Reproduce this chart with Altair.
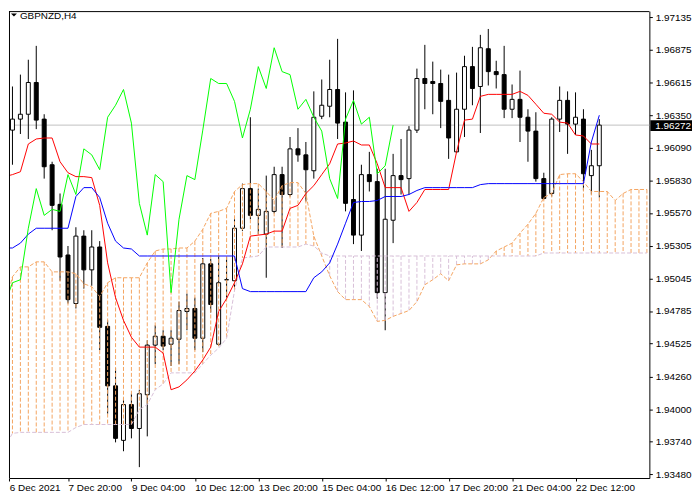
import altair as alt
import pandas as pd
import numpy as np

FONT = "Liberation Sans"

symbol_title = "GBPNZD,H4"
last_price = 1.96272
chikou_shift = 26

x_tick_index = [0.6, 8, 16, 24, 32, 40, 48, 56, 64, 72]
x_tick_labels = ["6 Dec 2021", "7 Dec 20:00", "9 Dec 04:00", "10 Dec 12:00", "13 Dec 20:00",
                 "15 Dec 04:00", "16 Dec 12:00", "17 Dec 20:00", "21 Dec 04:00", "22 Dec 12:00"]
y_tick_values = [1.97135, 1.96875, 1.96615, 1.96350, 1.96090, 1.95830, 1.95570, 1.95305,
                 1.95045, 1.94785, 1.94525, 1.94260, 1.94000, 1.93740, 1.93480]

open_ = [1.96518, 1.96232, 1.96320, 1.96359, 1.96613, 1.96320, 1.95955, 1.95638, 1.95233, 1.94845,
         1.95384, 1.95114, 1.95297, 1.94662, 1.94186, 1.93750, 1.94036, 1.93845, 1.94115, 1.94512,
         1.94583, 1.94519, 1.94559, 1.94781, 1.94805, 1.94567, 1.95162, 1.94519, 1.95035, 1.95027,
         1.95447, 1.95764, 1.95550, 1.95400, 1.95582, 1.95876, 1.95717, 1.96082, 1.96034, 1.95907,
         1.96343, 1.96423, 1.96557, 1.96296, 1.95677, 1.95392, 1.95876, 1.95820, 1.94932, 1.95511,
         1.95868, 1.95844, 1.96232, 1.96645, 1.96621, 1.96605, 1.96470, 1.96058, 1.96399, 1.96740,
         1.96581, 1.96883, 1.96700, 1.96676, 1.96399, 1.96478, 1.96335, 1.96224, 1.95844, 1.95725,
         1.96320, 1.96470, 1.96280, 1.96320, 1.95868, 1.95947]

high = [1.96597, 1.96581, 1.96676, 1.96795, 1.96906, 1.96359, 1.95979, 1.95725, 1.95305, 1.95455,
        1.95431, 1.95431, 1.95344, 1.94710, 1.94329, 1.94091, 1.94123, 1.94155, 1.94551, 1.94670,
        1.94631, 1.94631, 1.94860, 1.94924, 1.94892, 1.95209, 1.95201, 1.95225, 1.95217, 1.95519,
        1.95804, 1.96335, 1.95764, 1.95868, 1.95939, 1.95939, 1.96177, 1.96248, 1.96137, 1.96542,
        1.96637, 1.96795, 1.96962, 1.96534, 1.96550, 1.95955, 1.96058, 1.95923, 1.95923, 1.96042,
        1.96161, 1.96264, 1.96724, 1.96914, 1.96780, 1.96716, 1.96676, 1.96692, 1.96827, 1.96898,
        1.96994, 1.97041, 1.96787, 1.96906, 1.96597, 1.96708, 1.96399, 1.96375, 1.95891, 1.96335,
        1.96581, 1.96542, 1.96534, 1.96399, 1.96074, 1.96320]

low = [1.96018, 1.95955, 1.96201, 1.96161, 1.96240, 1.95844, 1.95431, 1.95027, 1.94845, 1.94805,
       1.94964, 1.94987, 1.94472, 1.93964, 1.93734, 1.93663, 1.93766, 1.93536, 1.93782, 1.94361,
       1.94472, 1.94345, 1.94361, 1.94631, 1.94472, 1.94456, 1.94773, 1.94504, 1.94892, 1.94956,
       1.95424, 1.95519, 1.95400, 1.95051, 1.95566, 1.95289, 1.95701, 1.95979, 1.95661, 1.95844,
       1.96320, 1.96335, 1.96161, 1.95582, 1.95320, 1.95265, 1.95741, 1.94884, 1.94631, 1.95328,
       1.95717, 1.95717, 1.96209, 1.96399, 1.96359, 1.96248, 1.96002, 1.96050, 1.96177, 1.96431,
       1.96209, 1.96589, 1.96565, 1.96328, 1.96328, 1.96137, 1.95979, 1.95820, 1.95677, 1.95701,
       1.96217, 1.96042, 1.96193, 1.95749, 1.95717, 1.95693]

close = [1.96232, 1.96320, 1.96359, 1.96613, 1.96312, 1.95939, 1.95630, 1.95217, 1.94876, 1.95384,
         1.95114, 1.95297, 1.94654, 1.94186, 1.93766, 1.94036, 1.93845, 1.94123, 1.94512, 1.94583,
         1.94504, 1.94567, 1.94789, 1.94805, 1.94567, 1.95162, 1.94837, 1.95011, 1.95035, 1.95447,
         1.95764, 1.95550, 1.95598, 1.95582, 1.95876, 1.95717, 1.96082, 1.96034, 1.95915, 1.96335,
         1.96431, 1.96557, 1.96288, 1.95646, 1.95392, 1.95876, 1.95820, 1.94932, 1.95519, 1.95868,
         1.95836, 1.96232, 1.96645, 1.96605, 1.96605, 1.96462, 1.96169, 1.96399, 1.96740, 1.96565,
         1.96891, 1.96700, 1.96676, 1.96399, 1.96478, 1.96335, 1.96224, 1.95844, 1.95685, 1.96320,
         1.96470, 1.96280, 1.96335, 1.95883, 1.95947, 1.96272]

tenkan = [1.95860, 1.95876, 1.95899, 1.96121, 1.96161, 1.96169, 1.96169, 1.95979, 1.95891, 1.95860,
          1.95860, 1.95852, 1.95630, 1.95170, 1.94892, 1.94710, 1.94575, 1.94496, 1.94496, 1.94496,
          1.94448, 1.94155, 1.94178, 1.94234, 1.94305, 1.94393, 1.94496, 1.94781, 1.94884, 1.95011,
          1.95162, 1.95384, 1.95392, 1.95400, 1.95424, 1.95424, 1.95606, 1.95630, 1.95725, 1.95788,
          1.95876, 1.95963, 1.96121, 1.96129, 1.96145, 1.96113, 1.96113, 1.95963, 1.95772, 1.95772,
          1.95772, 1.95582, 1.95653, 1.95757, 1.95757, 1.95757, 1.95757, 1.96058, 1.96312, 1.96320,
          1.96502, 1.96518, 1.96518, 1.96518, 1.96518, 1.96542, 1.96510, 1.96439, 1.96367, 1.96359,
          1.96296, 1.96288, 1.96193, 1.96185, 1.96121, 1.96121]

kijun = [1.95289, 1.95289, 1.95328, 1.95400, 1.95447, 1.95447, 1.95447, 1.95447, 1.95447, 1.95701,
         1.95772, 1.95772, 1.95693, 1.95487, 1.95344, 1.95289, 1.95281, 1.95225, 1.95225, 1.95225,
         1.95225, 1.95225, 1.95225, 1.95225, 1.95225, 1.95225, 1.95225, 1.95225, 1.95225, 1.95225,
         1.94964, 1.94940, 1.94940, 1.94940, 1.94940, 1.94940, 1.94940, 1.94940, 1.94940, 1.95051,
         1.95098, 1.95170, 1.95320, 1.95487, 1.95653, 1.95661, 1.95661, 1.95669, 1.95701, 1.95701,
         1.95701, 1.95717, 1.95749, 1.95772, 1.95772, 1.95772, 1.95772, 1.95772, 1.95772, 1.95772,
         1.95796, 1.95804, 1.95804, 1.95804, 1.95804, 1.95804, 1.95804, 1.95804, 1.95804, 1.95804,
         1.95804, 1.95804, 1.95804, 1.95804, 1.96137, 1.96351]

span_a = [1.94821, 1.95059, 1.95138, 1.95138, 1.95178, 1.95178, 1.95098, 1.95098, 1.95098, 1.95083,
          1.95003, 1.94979, 1.94900, 1.95011, 1.95051, 1.95051, 1.95051, 1.95051, 1.95170, 1.95265,
          1.95281, 1.95281, 1.95289, 1.95289, 1.95344, 1.95439, 1.95566, 1.95582, 1.95606, 1.95741,
          1.95796, 1.95804, 1.95804, 1.95741, 1.95669, 1.95788, 1.95812, 1.95812, 1.95725, 1.95384,
          1.95225, 1.95067, 1.94940, 1.94876, 1.94876, 1.94876, 1.94821, 1.94702, 1.94710, 1.94742,
          1.94765, 1.94789, 1.94860, 1.94995, 1.95035, 1.95083, 1.95027, 1.95154, 1.95162, 1.95162,
          1.95162, 1.95194, 1.95265, 1.95297, 1.95328, 1.95408, 1.95479, 1.95566, 1.95693, 1.95725,
          1.95876, 1.95883, 1.95883, 1.95820, 1.95741, 1.95741, 1.95741, 1.95669, 1.95725, 1.95757,
          1.95757, 1.95757]

span_b = [1.93695, 1.93806, 1.93814, 1.93814, 1.93814, 1.93814, 1.93814, 1.93814, 1.93814, 1.93853,
          1.93877, 1.93877, 1.93877, 1.93877, 1.93877, 1.93877, 1.93877, 1.93996, 1.94036, 1.94155,
          1.94202, 1.94290, 1.94290, 1.94290, 1.94290, 1.94361, 1.94432, 1.94488, 1.94567, 1.94948,
          1.95209, 1.95217, 1.95225, 1.95297, 1.95297, 1.95297, 1.95297, 1.95297, 1.95320, 1.95305,
          1.95249, 1.95225, 1.95225, 1.95225, 1.95225, 1.95225, 1.95225, 1.95225, 1.95225, 1.95225,
          1.95225, 1.95225, 1.95225, 1.95225, 1.95225, 1.95225, 1.95225, 1.95225, 1.95225, 1.95225,
          1.95225, 1.95225, 1.95225, 1.95225, 1.95225, 1.95225, 1.95225, 1.95225, 1.95249, 1.95249,
          1.95249, 1.95249, 1.95249, 1.95249, 1.95249, 1.95249, 1.95249, 1.95249, 1.95249, 1.95249,
          1.95249, 1.95249]

# ---------------- tables ----------------
n = len(close)
candles = pd.DataFrame({"i": np.arange(n), "open": open_, "high": high, "low": low,
                        "close": close, "tenkan": tenkan, "kijun": kijun})
candles["dir"] = np.where(candles["close"] >= candles["open"], "bull", "bear")

chikou = pd.DataFrame({"i": np.arange(n - chikou_shift), "chikou": close[chikou_shift:]})

cloud = pd.DataFrame({"i": np.arange(len(span_a)), "a": span_a, "b": span_b})
cloud["kind"] = np.where(cloud["a"] >= cloud["b"], "up", "down")

price_df = pd.DataFrame({"p": [last_price]})
title_df = pd.DataFrame({"t": [symbol_title]})
one = pd.DataFrame({"k": [0]})

# ---------------- scales / axes ----------------
W, H = 646, 471
xs = alt.Scale(domain=[0.5625, 81.3125], nice=False, zero=False, padding=0)
ys = alt.Scale(domain=[1.934489, 1.971840], nice=False, zero=False, padding=0)

label_arr = "[" + ",".join("'" + s + "'" for s in x_tick_labels) + "]"
x_axis = alt.Axis(orient="bottom", values=x_tick_index,
                  labelExpr=label_arr + "[round(datum.value/8)]",
                  tickSize=3, labelAlign="left", labelBaseline="top", labelPadding=2,
                  labelFlush=False, labelOverlap=False, labelBound=False, grid=False, title=None)
y_axis = alt.Axis(orient="right", values=y_tick_values,
                  labelExpr="format(datum.value, '.5f')",
                  tickSize=3, labelPadding=3, labelFlush=False, labelOverlap=False,
                  grid=False, title=None)


def X():
    return alt.X("i:Q", scale=xs, axis=x_axis, title=None)


def Y(f):
    return alt.Y(f + ":Q", scale=ys, axis=y_axis, title=None)


# ---------------- layers ----------------
price_line = alt.Chart(price_df).mark_rule(color="#C0C0C0", strokeWidth=1).encode(y=Y("p"))

cbase = alt.Chart(candles)
wicks = cbase.mark_rule(color="black", strokeWidth=1, clip=True).encode(
    x=X(), y=Y("low"), y2="high:Q")
bodies = cbase.mark_bar(width=4, stroke="black", strokeWidth=1, clip=True).encode(
    x=X(), y=Y("open"), y2="close:Q",
    fill=alt.Fill("dir:N", scale=alt.Scale(domain=["bull", "bear"], range=["white", "black"]),
                  legend=None))

hatch = alt.Chart(cloud).mark_rule(strokeWidth=1, strokeDash=[4, 2], clip=True).encode(
    x=X(), y=Y("a"), y2="b:Q",
    color=alt.Color("kind:N", scale=alt.Scale(domain=["up", "down"], range=["#F4A460", "#D8BFD8"]),
                    legend=None))
span_a_line = alt.Chart(cloud).mark_line(color="#F4A460", strokeWidth=1, strokeDash=[4, 2],
                                         clip=True).encode(x=X(), y=Y("a"))
span_b_line = alt.Chart(cloud).mark_line(color="#D8BFD8", strokeWidth=1, strokeDash=[4, 2],
                                         clip=True).encode(x=X(), y=Y("b"))

tenkan_line = cbase.mark_line(color="#FF0000", strokeWidth=1, clip=True).encode(x=X(), y=Y("tenkan"))
kijun_line = cbase.mark_line(color="#0000FF", strokeWidth=1, clip=True).encode(x=X(), y=Y("kijun"))
chikou_line = alt.Chart(chikou).mark_line(color="#00FF00", strokeWidth=1, clip=True).encode(
    x=X(), y=Y("chikou"))

frame_left = alt.Chart(one).mark_rule(color="black", strokeWidth=1).encode(
    x=alt.value(0.5), y=alt.value(0), y2=alt.value(H))
frame_top = alt.Chart(one).mark_rule(color="black", strokeWidth=1).encode(
    y=alt.value(0.5), x=alt.value(0), x2=alt.value(W))

price_box = alt.Chart(price_df).mark_rect(color="black", yOffset=-5, y2Offset=6).encode(
    y=Y("p"), y2="p:Q", x=alt.value(647), x2=alt.value(689))
price_text = alt.Chart(price_df).mark_text(color="white", align="left", baseline="middle",
                                           font=FONT, fontSize=10, dy=1).encode(
    y=Y("p"), x=alt.value(652), text=alt.Text("p:Q", format=".5f"))

tri = alt.Chart(one).mark_point(shape="M-1,-0.5L1,-0.5L0,0.5Z", filled=True, color="black",
                                size=36, opacity=1).encode(x=alt.value(5), y=alt.value(4))
title = alt.Chart(title_df).mark_text(align="left", baseline="alphabetic", font=FONT,
                                      fontSize=10, color="black").encode(
    x=alt.value(11), y=alt.value(8), text="t:N")

chart = alt.layer(
    price_line, wicks, bodies, hatch, span_a_line, span_b_line,
    tenkan_line, kijun_line, chikou_line,
    frame_left, frame_top, price_box, price_text, tri, title
).properties(
    width=W, height=H, padding=0, background="white"
).configure_view(
    stroke=None
).configure_axis(
    labelFont=FONT, labelFontSize=10, labelColor="black",
    domainColor="black", domainWidth=1, tickColor="black", tickWidth=1
)

chart.save("out.html", embed_options={"renderer": "svg", "actions": False})
